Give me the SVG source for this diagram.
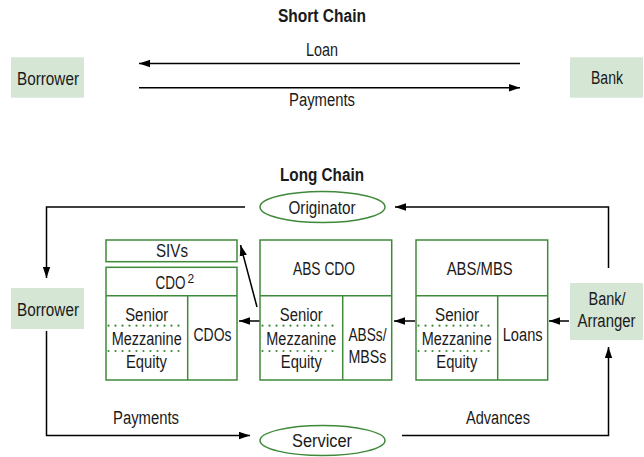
<svg xmlns="http://www.w3.org/2000/svg" width="644" height="457" viewBox="0 0 644 457">
<defs>
<marker id="ah" markerWidth="12" markerHeight="8" refX="11" refY="4" orient="auto" markerUnits="userSpaceOnUse"><path d="M0,0.3 L11,4 L0,7.7 z" fill="#000"/></marker>
<style>
text{font-family:"Liberation Sans",Arial,sans-serif;font-size:18px;fill:#1a1a1a;text-anchor:middle}
.t{font-weight:bold}
.sq{fill:#d6e6d4;stroke:none}
.bx{fill:#fff;stroke:#3e8a3a;stroke-width:1.5}
.ln{fill:none;stroke:#3e8a3a;stroke-width:1.5}
.dot{fill:none;stroke:#3e8a3a;stroke-width:2.2;stroke-linecap:round;stroke-dasharray:0 7}
.el{fill:#fff;stroke:#3e8a3a;stroke-width:1.5}
.c{fill:none;stroke:#000;stroke-width:1.5}
.sup{font-size:12px;text-anchor:start}
</style>
</defs>

<text class="t" x="322" y="21.5" textLength="88" lengthAdjust="spacingAndGlyphs">Short Chain</text>
<text class="t" x="322" y="180.5" textLength="84" lengthAdjust="spacingAndGlyphs">Long Chain</text>

<g id="connectors">
<line class="c" x1="520" y1="63.5" x2="139" y2="63.5" marker-end="url(#ah)"/>
<line class="c" x1="139" y1="87.7" x2="520" y2="87.7" marker-end="url(#ah)"/>
<text x="322" y="56" textLength="32" lengthAdjust="spacingAndGlyphs">Loan</text>
<text x="322" y="106" textLength="66" lengthAdjust="spacingAndGlyphs">Payments</text>

<polyline class="c" points="245,207 46.5,207 46.5,278" marker-end="url(#ah)"/>
<polyline class="c" points="608.5,268 608.5,207 395,207" marker-end="url(#ah)"/>
<polyline class="c" points="46.5,331 46.5,435.5 250,435.5" marker-end="url(#ah)"/>
<polyline class="c" points="402,435.5 608.5,435.5 608.5,347" marker-end="url(#ah)"/>
<line class="c" x1="569" y1="321" x2="549" y2="321" marker-end="url(#ah)"/>
<line class="c" x1="415" y1="321" x2="394" y2="321" marker-end="url(#ah)"/>
<line class="c" x1="260" y1="321" x2="239" y2="321" marker-end="url(#ah)"/>
<line class="c" x1="257" y1="307" x2="240.5" y2="245" marker-end="url(#ah)"/>
<text x="146" y="424" textLength="66" lengthAdjust="spacingAndGlyphs">Payments</text>
<text x="498" y="424" textLength="64" lengthAdjust="spacingAndGlyphs">Advances</text>
</g>

<g id="borrower-short">
<rect class="sq" x="11" y="57.3" width="73" height="40.4"/>
<text x="48" y="85" textLength="62" lengthAdjust="spacingAndGlyphs">Borrower</text>
</g>
<g id="bank-short">
<rect class="sq" x="570" y="57.3" width="73" height="40.4"/>
<text x="607" y="84" textLength="32" lengthAdjust="spacingAndGlyphs">Bank</text>
</g>

<g id="originator">
<ellipse class="el" cx="322.5" cy="207" rx="62.5" ry="15.5"/>
<text x="322" y="213.5" textLength="67" lengthAdjust="spacingAndGlyphs">Originator</text>
</g>

<g id="servicer">
<ellipse class="el" cx="322.5" cy="440.5" rx="62.5" ry="15"/>
<text x="322" y="447" textLength="60" lengthAdjust="spacingAndGlyphs">Servicer</text>
</g>

<g id="borrower-long">
<rect class="sq" x="11" y="288" width="73" height="41"/>
<text x="48" y="316" textLength="62" lengthAdjust="spacingAndGlyphs">Borrower</text>
</g>

<g id="bank-arranger">
<rect class="sq" x="570" y="283" width="73" height="57"/>
<text x="607" y="305" textLength="37" lengthAdjust="spacingAndGlyphs">Bank/</text>
<text x="606.5" y="327" textLength="58" lengthAdjust="spacingAndGlyphs">Arranger</text>
</g>

<g id="sivs">
<rect class="bx" x="106" y="240" width="131" height="21.7"/>
<text x="172" y="256.7" textLength="32" lengthAdjust="spacingAndGlyphs">SIVs</text>
</g>

<g id="cdo2">
<rect class="bx" x="106" y="267.3" width="131" height="112.7"/>
<line class="ln" x1="106" y1="295.7" x2="237" y2="295.7"/>
<line class="ln" x1="187.7" y1="295.7" x2="187.7" y2="380"/>
<line class="dot" x1="108.5" y1="325.7" x2="184" y2="325.7"/>
<line class="dot" x1="108.5" y1="351" x2="184" y2="351"/>
<text x="170.5" y="289.3" textLength="30" lengthAdjust="spacingAndGlyphs">CDO</text>
<text class="sup" x="187.5" y="283">2</text>
<text x="146.7" y="320.7" textLength="43" lengthAdjust="spacingAndGlyphs">Senior</text>
<text x="146.7" y="345" textLength="70" lengthAdjust="spacingAndGlyphs">Mezzanine</text>
<text x="146.5" y="368" textLength="41" lengthAdjust="spacingAndGlyphs">Equity</text>
<text x="212.5" y="340.7" textLength="38" lengthAdjust="spacingAndGlyphs">CDOs</text>
</g>

<g id="abs-cdo">
<rect class="bx" x="260" y="240" width="131.7" height="140"/>
<line class="ln" x1="260" y1="295.7" x2="391.7" y2="295.7"/>
<line class="ln" x1="342.7" y1="295.7" x2="342.7" y2="380"/>
<line class="dot" x1="262.5" y1="325.7" x2="339" y2="325.7"/>
<line class="dot" x1="262.5" y1="351" x2="339" y2="351"/>
<text x="324" y="275" textLength="62" lengthAdjust="spacingAndGlyphs">ABS CDO</text>
<text x="301.3" y="320.7" textLength="43" lengthAdjust="spacingAndGlyphs">Senior</text>
<text x="301.3" y="345" textLength="70" lengthAdjust="spacingAndGlyphs">Mezzanine</text>
<text x="301.3" y="368" textLength="41" lengthAdjust="spacingAndGlyphs">Equity</text>
<text x="367.5" y="340.7" textLength="38" lengthAdjust="spacingAndGlyphs">ABSs/</text>
<text x="367.5" y="362.7" textLength="38" lengthAdjust="spacingAndGlyphs">MBSs</text>
</g>

<g id="abs-mbs">
<rect class="bx" x="416" y="240" width="131.7" height="140"/>
<line class="ln" x1="416" y1="295.7" x2="547.7" y2="295.7"/>
<line class="ln" x1="497.7" y1="295.7" x2="497.7" y2="380"/>
<line class="dot" x1="418.5" y1="325.7" x2="495" y2="325.7"/>
<line class="dot" x1="418.5" y1="351" x2="495" y2="351"/>
<text x="479.7" y="275" textLength="66" lengthAdjust="spacingAndGlyphs">ABS/MBS</text>
<text x="457" y="320.7" textLength="44" lengthAdjust="spacingAndGlyphs">Senior</text>
<text x="456.7" y="345" textLength="70" lengthAdjust="spacingAndGlyphs">Mezzanine</text>
<text x="456.8" y="368" textLength="41" lengthAdjust="spacingAndGlyphs">Equity</text>
<text x="522.7" y="340.7" textLength="40" lengthAdjust="spacingAndGlyphs">Loans</text>
</g>
</svg>
